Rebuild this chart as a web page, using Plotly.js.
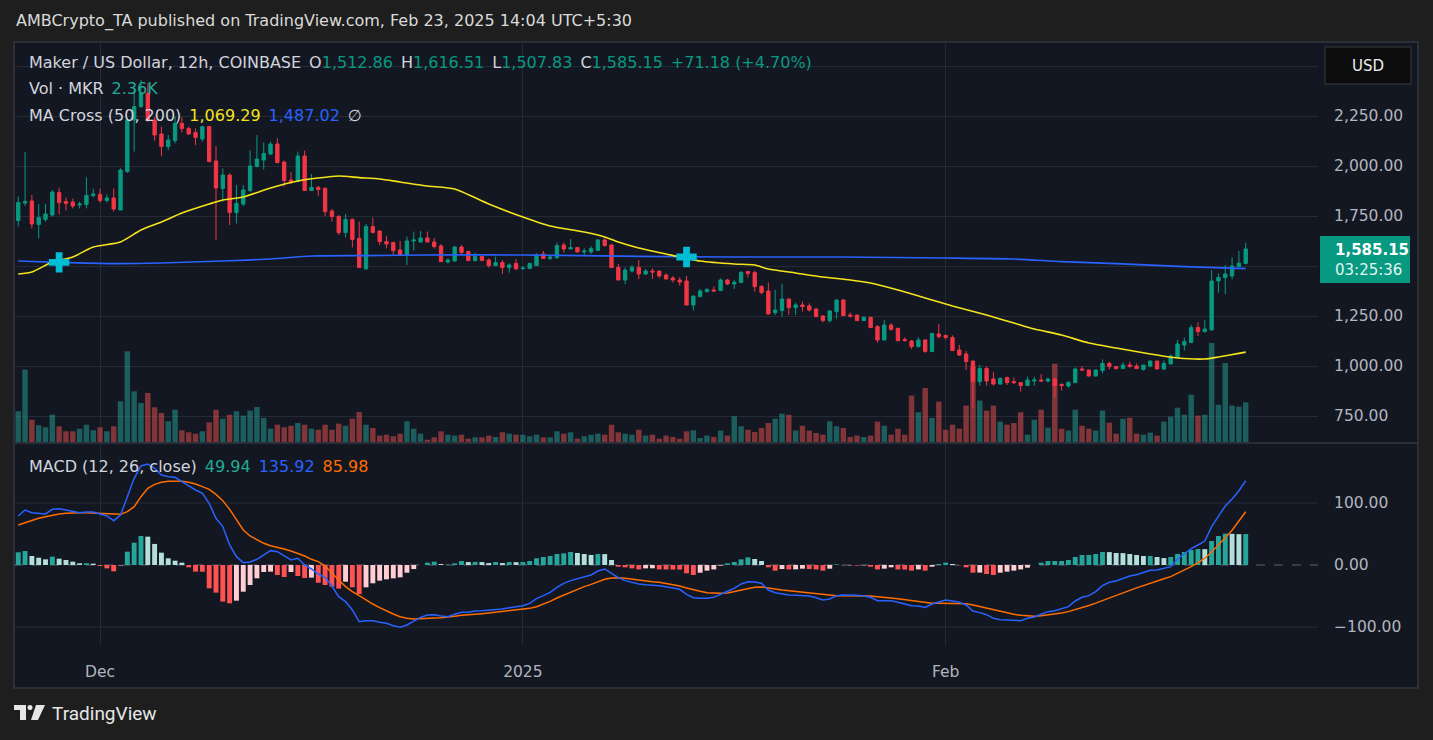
<!DOCTYPE html>
<html><head><meta charset="utf-8">
<script src="https://cdn.plot.ly/plotly-3.0.1.min.js"></script>
<style>html,body{margin:0;padding:0;background:#1e1e1e;overflow:hidden}#chart{width:1433px;height:740px}</style>
</head><body><div id="chart"></div>
<script>
// ---------- DATA ----------
const opens=[1727,1815,1825,1708,1733,1755,1868,1822,1820,1805,
 1808,1852,1858,1827,1840,1780,1972,2230,2297,2363,
 2230,2160,2097,2127,2213,2188,2167,2135,2197,2025,
 1888,1955,1767,1810,1877,1997,2030,2060,2110,2020,
 1930,1922,2050,1877,1893,1888,1775,1747,1667,1733,
 1638,1485,1697,1675,1622,1617,1580,1555,1625,1620,
 1640,1620,1600,1520,1525,1595,1573,1527,1547,1530,
 1502,1517,1492,1513,1487,1487,1502,1560,1538,1542,
 1605,1585,1592,1570,1570,1578,1630,1605,1493,1430,
 1475,1493,1460,1475,1475,1455,1440,1430,1425,1305,
 1347,1372,1380,1377,1430,1410,1417,1472,1467,1397,
 1375,1267,1277,1335,1292,1305,1300,1285,1250,1227,
 1272,1330,1255,1255,1227,1243,1197,1130,1205,1188,
 1133,1125,1097,1130,1072,1160,1152,1143,1080,1060,
 1025,922,988,935,910,942,922,917,902,925,
 930,925,935,908,900,917,985,980,950,977,
 1013,997,987,1005,1000,983,1000,1025,985,1010,
 1043,1105,1117,1192,1172,1180,1425,1442,1450,1497,
 1512.86];
const highs=[1847,2070,1855,1810,1810,1880,1892,1843,1837,1822,
 1943,1887,1887,1858,1887,1988,2240,2388,2430,2413,
 2245,2197,2155,2247,2243,2197,2188,2200,2200,2100,
 1988,1963,1905,1905,2077,2155,2117,2122,2138,2027,
 1970,2072,2077,1960,1900,1893,1785,1755,1760,1738,
 1722,1710,1742,1677,1650,1622,1625,1647,1672,1675,
 1672,1640,1610,1538,1600,1605,1575,1567,1550,1538,
 1547,1530,1513,1535,1500,1517,1563,1575,1555,1617,
 1617,1635,1593,1588,1600,1635,1642,1610,1510,1493,
 1505,1530,1485,1488,1475,1463,1450,1443,1450,1350,
 1385,1388,1397,1438,1435,1430,1475,1475,1477,1405,
 1417,1380,1410,1335,1317,1322,1313,1290,1255,1280,
 1333,1335,1267,1255,1250,1247,1205,1230,1213,1192,
 1143,1130,1143,1133,1163,1210,1158,1153,1105,1075,
 1025,1005,997,970,943,947,942,917,947,947,
 960,942,942,913,925,993,1000,980,980,1033,
 1022,1000,1018,1022,1013,1005,1025,1025,1027,1058,
 1130,1142,1205,1218,1230,1480,1463,1505,1543,1575,
 1616.51];
const lows=[1697,1800,1688,1638,1722,1747,1758,1777,1788,1788,
 1788,1843,1817,1817,1772,1780,1965,2072,2290,2220,
 2127,2050,2080,2113,2168,2155,2105,2122,2020,1630,
 1822,1705,1713,1800,1872,1993,1983,2055,2013,1897,
 1910,1920,1877,1875,1850,1750,1722,1655,1643,1593,
 1492,1485,1663,1605,1588,1555,1552,1505,1577,1617,
 1620,1588,1522,1513,1522,1555,1525,1522,1525,1492,
 1502,1460,1467,1483,1480,1487,1500,1535,1530,1535,
 1567,1585,1568,1552,1560,1575,1597,1492,1430,1410,
 1467,1435,1455,1435,1442,1435,1417,1402,1305,1277,
 1343,1367,1375,1375,1405,1385,1417,1442,1372,1358,
 1260,1255,1247,1255,1255,1272,1272,1243,1218,1217,
 1235,1252,1242,1227,1227,1192,1117,1130,1177,1122,
 1122,1085,1092,1067,1072,1138,1133,1077,1050,980,
 788,902,902,902,905,905,910,872,900,902,
 925,918,842,877,892,917,977,947,947,963,
 983,983,987,993,987,977,993,985,980,1010,
 1043,1077,1117,1150,1167,1180,1367,1360,1433,1497,
 1507.83];
const closes=[1818,1822,1710,1742,1760,1870,1817,1813,1800,1810,
 1853,1860,1827,1840,1785,1980,2230,2297,2363,2230,
 2155,2097,2130,2213,2188,2160,2143,2197,2022,1890,
 1955,1767,1813,1880,2000,2035,2063,2110,2017,1927,
 1920,2050,1877,1893,1883,1772,1747,1667,1733,1633,
 1492,1697,1668,1622,1610,1577,1555,1625,1630,1640,
 1620,1597,1522,1530,1595,1568,1527,1547,1527,1502,
 1517,1492,1505,1485,1490,1512,1555,1538,1545,1602,
 1585,1592,1570,1575,1587,1630,1602,1492,1430,1480,
 1493,1460,1475,1470,1450,1435,1430,1420,1305,1350,
 1375,1383,1375,1430,1410,1418,1468,1463,1397,1368,
 1260,1280,1335,1292,1305,1297,1280,1247,1227,1275,
 1330,1252,1250,1227,1243,1192,1130,1205,1183,1127,
 1127,1097,1130,1072,1163,1147,1143,1077,1055,1022,
 922,988,925,910,938,917,917,902,930,930,
 925,935,902,902,918,985,980,950,980,1013,
 997,987,1005,997,987,1005,1025,985,1013,1050,
 1110,1122,1192,1172,1185,1425,1443,1460,1500,1513.97,
 1585.15];
// volume in thousands of MKR
const volumes=[1.84,4.26,1.35,1.03,0.91,1.64,0.97,0.68,0.68,0.83,
 1.06,0.74,0.91,0.68,0.97,2.42,5.32,3.0,2.32,2.9,
 2.07,1.74,1.26,1.93,0.74,0.62,0.54,0.68,1.2,1.93,
 1.41,1.64,1.84,1.59,1.88,2.09,1.45,0.83,1.06,0.91,
 1.0,1.16,1.06,0.83,0.77,1.06,0.77,1.12,1.0,1.41,
 1.8,1.06,0.87,0.43,0.48,0.39,0.54,1.26,0.83,0.54,
 0.19,0.33,0.68,0.48,0.43,0.48,0.25,0.33,0.33,0.43,
 0.35,0.62,0.54,0.48,0.48,0.39,0.48,0.33,0.33,0.68,
 0.54,0.62,0.25,0.39,0.48,0.54,0.48,1.06,0.62,0.54,
 0.48,0.77,0.43,0.48,0.25,0.43,0.35,0.25,0.68,0.74,
 0.29,0.43,0.35,0.72,0.43,1.55,0.97,0.77,0.64,0.87,
 1.16,1.41,1.7,1.64,0.72,1.0,0.72,0.58,0.48,1.26,
 0.97,0.87,0.35,0.43,0.35,0.43,1.24,1.0,0.48,0.83,
 0.48,2.75,1.78,3.19,1.45,2.4,0.77,1.06,0.83,2.17,
 4.45,2.46,1.88,2.17,1.24,1.06,1.16,1.78,0.48,1.35,
 1.93,0.89,4.6,0.83,0.72,1.93,1.0,0.83,0.72,1.88,
 1.18,0.54,1.41,1.47,0.54,0.48,0.6,0.43,1.24,1.53,
 2.05,1.64,2.8,1.59,1.64,5.8,2.22,4.64,2.17,2.11,
 2.36];
// moving averages read at selected candles (candle index, value)
const ma50Idx=[0,2,5,8,11,15,18,21,24,28,30,33,37,41,44,47,50,53,56,60,64,69,74,78,83,86,88,91,95,100,105,108,110,114,118,122,125,129,133,137,142,146,149,153,157,161,166,170,174,176,179,180];
const ma50Vals=[1460,1470,1520,1545,1595,1620,1680,1720,1765,1810,1830,1845,1890,1925,1940,1950,1942,1935,1920,1900,1885,1810,1745,1700,1670,1645,1620,1590,1560,1525,1510,1505,1485,1465,1445,1430,1415,1380,1340,1300,1255,1215,1185,1155,1115,1090,1060,1040,1035,1045,1063,1069.29];
const ma200Idx=[0,6,14,21,30,37,43,51,60,74,91,105,121,136,146,153,161,171,180];
const ma200Vals=[1525,1518,1512,1515,1525,1535,1550,1552,1555,1555,1548,1545,1545,1540,1535,1522,1512,1497,1487.02];
const crossIdx=[6,98];
const crossVals=[1518,1545];
const macdLine=[79.1,88.7,84.4,83.4,82.3,89.8,90.9,88.7,86.6,84.4,
 85.5,85.5,82.3,79.1,71.5,80.7,110.2,139.8,159.7,162.9,
 156,145.2,142.5,141.4,134.4,127.4,121,115.6,99.5,75.3,
 61.9,32.3,13.5,3.8,4.9,9.2,16.2,23.2,21.5,14.5,
 8.1,10.8,0,-6.4,-14.5,-19.9,-33.8,-51,-59.1,-72.5,
 -91.4,-89.8,-89.8,-92.4,-94,-97.8,-100.5,-96.7,-90.3,-84.4,
 -80.6,-80.1,-82.2,-83.3,-79.5,-76.3,-76.3,-74.2,-73.6,-73.1,
 -72,-70.9,-68.8,-67.7,-65.6,-61.8,-54.3,-49.4,-44.1,-36,
 -29.5,-25.2,-22.5,-19.3,-16.1,-9.7,-6.4,-13.4,-20.4,-25.2,
 -28.5,-30.6,-31.7,-32.2,-33.3,-34.9,-37.1,-39.2,-47.3,-52.7,
 -53.7,-53.7,-52.1,-46.7,-42.4,-37.6,-30.6,-26.9,-27.4,-29.5,
 -40.3,-44.6,-46.7,-48.4,-48.9,-49.4,-50,-52.7,-56.4,-54.8,
 -49.4,-48.4,-48.4,-48.9,-50,-52.1,-57.5,-57.5,-57.5,-60.2,
 -62.9,-65.6,-66.1,-68.3,-62.9,-59.1,-56.4,-58,-60.2,-64.5,
 -74.2,-76.8,-80.1,-86,-88.1,-88.7,-89.2,-89.8,-86,-83.8,
 -79.5,-75.2,-73.6,-70.9,-67.2,-58,-52.1,-49.4,-43,-33.3,
 -27.9,-25.8,-22,-17.7,-15.6,-12.4,-8.6,-8.1,-5.9,-2.7,
 9.7,18.8,26.4,32.3,38.7,61.9,79.1,95.2,106.5,119.9,
 135.92];
const signalLine=[64.5,68.3,72.6,75.3,78,80.7,82.3,83.4,84.4,84.4,
 84.4,83.9,83.4,82.3,81.7,81.7,86,94.1,110.2,123.7,
 130.1,133.4,135,135.5,135,133.4,130.7,126.4,122.1,114,
 103.8,89.8,73.7,56.5,46.8,40.3,35,31.2,29.1,25.8,
 22.6,18.8,14.5,9.2,5.4,-1.6,-13.4,-24.2,-34.9,-43,
 -49.4,-56.4,-62.9,-68.8,-74.2,-79,-83.3,-86,-87.1,-86.5,
 -84.9,-85.4,-84.9,-84.4,-82.8,-81.1,-80.6,-79.5,-78.5,-77.4,
 -76.3,-75.2,-74.2,-73.1,-71.5,-69.9,-67.2,-63.4,-58.6,-53.2,
 -48.4,-44.6,-39.8,-34.9,-31.2,-27.4,-23.1,-20.9,-20.4,-21.5,
 -23.1,-24.2,-25.2,-26.9,-27.9,-29.5,-31.7,-33.8,-37.1,-40.3,
 -42.4,-44.6,-45.7,-45.7,-45.1,-43,-40.8,-38.1,-36,-35.5,
 -36.5,-38.7,-40.3,-41.4,-42.4,-43.5,-44.6,-46.2,-47.8,-48.9,
 -49.4,-49.4,-49.4,-49.4,-49.4,-50,-51,-51.6,-53.2,-54.3,
 -55.9,-57.5,-59.6,-61.3,-61.8,-61.8,-61.8,-61.8,-61.8,-62.3,
 -64.5,-67,-69.8,-72.6,-75.2,-77.5,-79.5,-81.2,-82.3,-82.8,
 -81.7,-80.6,-79.2,-77.4,-75.2,-72.2,-68.8,-65.3,-61.5,-57.6,
 -53.5,-49.3,-45.1,-40.9,-36.8,-32.9,-29.1,-25.6,-22.2,-18.8,
 -13.5,-8.5,-2.5,4,11,21,32,44,56,70.5,
 85.98];
const macdHist=[20.5,22.6,14.5,11.8,9.2,13.5,10.2,8.1,5.4,2.7,
 2.9,2.2,-1.6,-5.4,-10.2,-0.8,21.5,36,46.8,45.7,
 34,19.9,10.8,7,3.8,-3.7,-10.7,-10.8,-37.6,-44.6,
 -59,-61.8,-57.5,-43,-32.2,-21.5,-11.3,-10.7,-16.1,-19.3,
 -11.3,-17.7,-20.9,-20.4,-28.5,-32.2,-34.9,-38.1,-26.9,-36,
 -46.7,-36,-29.5,-25.2,-23.1,-21.5,-19.9,-12.4,-6.5,0,
 3.8,5.4,1.6,0.3,2.7,6.5,4.8,5.0,4.8,3.2,
 4.8,3.2,4.8,4.6,4.8,6.5,10.8,12.9,14.5,17.8,
 18.8,21,19.4,17.8,16.2,17.8,17.6,8.1,-2.7,-3.7,
 -5.4,-7.1,-5.4,-5.3,-7.1,-7.2,-7.3,-7.4,-13.4,-16.1,
 -12.4,-9.1,-7.1,-1,2.7,4.8,9.1,12.4,9.7,6.5,
 -3.7,-9.1,-6.5,-7.1,-7.0,-5.9,-6.5,-7.1,-9.1,-5.9,
 1.1,-0.5,-0.5,-1,-0.5,-2.7,-7.1,-5.9,-3.7,-7.1,
 -7.3,-9.1,-7.1,-9.1,-2.7,1.6,3.8,1.6,-0.5,-3.7,
 -12.4,-12.2,-14.5,-16.1,-12.4,-10.7,-9.1,-7.1,-4.3,0,
 3.8,6.5,6.5,6.5,8.1,12.9,16.2,16.2,17.8,21,
 20.8,19.4,19.2,17.8,16.2,14.5,14.6,12.9,11.2,12.9,
 17.8,21,24.2,25.8,25.6,38.7,46.8,50.6,50.3,49.8,
 49.94];
const tickIdx=[12,74,136];
const tickLabels=['Dec','2025','Feb'];
const priceTicks=[750,1000,1250,1500,1750,2000,2250,2500];
const hiddenPriceLabels=[1500,2500]; // covered by the price tag and the USD box
const macdTicks=[-100,0,100];

// ---------- helpers ----------
const T0=Date.UTC(2024,10,25,5,30), STEP=43200000;
const dt=i=>new Date(T0+i*STEP).toISOString().replace('T',' ').slice(0,23);
const W=1433,H=740,L=14,R=1318,T=42,B=645;
const px=x=>(x-L)/(R-L), py=y=>(B-y)/(B-T);
const FONT='DejaVu Sans, Liberation Sans, Arial, sans-serif';
const GRID='#262a35';
const fmt=v=>v.toLocaleString('en-US',{minimumFractionDigits:2,maximumFractionDigits:2});
const n=closes.length-1;
const xs=closes.map((_,i)=>dt(i));
const UP='#089981', DN='#f23645';

const volColors=closes.map((c,i)=>c>=opens[i]?'rgba(38,166,154,0.5)':'rgba(239,83,80,0.5)');
const histColors=macdHist.map((h,i)=>{const p=i>0?macdHist[i-1]:h;return h>=0?(h>=p?'#26a69a':'#b2dfdb'):(h<p?'#ff5252':'#ffcdd2');});

const traces=[
 {type:'bar',x:xs,y:volumes,xaxis:'x',yaxis:'y',marker:{color:volColors,line:{width:0}},width:STEP*0.8,hoverinfo:'skip'},
 {type:'candlestick',x:xs,open:opens,high:highs,low:lows,close:closes,xaxis:'x',yaxis:'y3',
  increasing:{line:{color:UP,width:1},fillcolor:UP},decreasing:{line:{color:DN,width:1},fillcolor:DN},hoverinfo:'skip'},
 {type:'scatter',mode:'lines',x:ma200Idx.map(dt),y:ma200Vals,xaxis:'x',yaxis:'y3',line:{color:'#2962ff',width:1.6,shape:'spline',smoothing:0.6},hoverinfo:'skip'},
 {type:'scatter',mode:'lines',x:ma50Idx.map(dt),y:ma50Vals,xaxis:'x',yaxis:'y3',line:{color:'#f5e31b',width:1.6,shape:'spline',smoothing:0.6},hoverinfo:'skip'},
 {type:'scatter',mode:'markers',x:crossIdx.map(dt),y:crossVals,xaxis:'x',yaxis:'y3',marker:{symbol:'cross',size:17,color:'#00bcd4',line:{width:0}},hoverinfo:'skip'},
 {type:'bar',x:xs,y:macdHist,xaxis:'x',yaxis:'y2',marker:{color:histColors,line:{width:0}},width:STEP*0.72,hoverinfo:'skip'},
 {type:'scatter',mode:'lines',x:xs,y:signalLine,xaxis:'x',yaxis:'y2',line:{color:'#ff6d00',width:1.5},hoverinfo:'skip'},
 {type:'scatter',mode:'lines',x:xs,y:macdLine,xaxis:'x',yaxis:'y2',line:{color:'#2962ff',width:1.5},hoverinfo:'skip'}
];

const tickFont={family:FONT,size:15.5,color:'#b2b5be'};
const shapes=[
 {type:'rect',xref:'paper',yref:'paper',x0:px(14),x1:px(1418),y0:py(688),y1:py(42),fillcolor:'#131722',line:{color:'#333640',width:1.5},layer:'below'},
 {type:'line',xref:'paper',yref:'y2',x0:0,x1:1,y0:100,y1:100,line:{color:GRID,width:1},layer:'below'},
 {type:'line',xref:'paper',yref:'y2',x0:0,x1:1,y0:-100,y1:-100,line:{color:GRID,width:1},layer:'below'},
 {type:'line',xref:'paper',yref:'y2',x0:0,x1:1,y0:0,y1:0,line:{color:'#5d606b',width:1,dash:'dash'},layer:'below'},
 {type:'line',xref:'paper',yref:'paper',x0:px(14),x1:px(1418),y0:py(443),y1:py(443),line:{color:'#2a2e39',width:2},layer:'above'},
 {type:'rect',xref:'paper',yref:'paper',x0:px(1325),x1:px(1411),y0:py(84),y1:py(47),fillcolor:'#0c0c0c',line:{color:'#3c3c3c',width:1},layer:'above'},
 {type:'rect',xref:'paper',yref:'paper',x0:px(1320),x1:px(1410),y0:py(283),y1:py(236),fillcolor:UP,line:{width:0},layer:'above'},
 // TradingView logo
 {type:'path',xref:'paper',yref:'paper',path:`M${px(14)},${py(705)} L${px(26)},${py(705)} L${px(26)},${py(720)} L${px(20)},${py(720)} L${px(20)},${py(710)} L${px(14)},${py(710)} Z`,fillcolor:'#e6e6e6',line:{width:0}},
 {type:'circle',xref:'paper',yref:'paper',x0:px(27.5),x1:px(32.5),y0:py(710),y1:py(705),fillcolor:'#e6e6e6',line:{width:0}},
 {type:'path',xref:'paper',yref:'paper',path:`M${px(36)},${py(705)} L${px(45)},${py(705)} L${px(38)},${py(720)} L${px(31)},${py(720)} Z`,fillcolor:'#e6e6e6',line:{width:0}}
];

const ann=(x,y,text,o)=>Object.assign({xref:'paper',yref:'paper',x:px(x),y:py(y),text,showarrow:false,xanchor:'left',yanchor:'middle',font:{family:FONT,size:16,color:'#d1d4dc'}},o||{});
const g=s=>`<span style="color:${UP}">${s}</span>`;
const chg=closes[n]-closes[n-1], pct=chg/closes[n-1]*100;
const sp='\u2002';
const annotations=[
 ann(14,21,'AMBCrypto_TA published on TradingView.com, Feb 23, 2025 14:04 UTC+5:30',{font:{family:FONT,size:16,color:'#dadada'}}),
 ann(27,63,`Maker / US Dollar, 12h, COINBASE${sp}O${g(fmt(opens[n]))}${sp}H${g(fmt(highs[n]))}${sp}L${g(fmt(lows[n]))}${sp}C${g(fmt(closes[n]))}${sp}${g('+'+fmt(chg)+' (+'+pct.toFixed(2)+'%)')}`),
 ann(27,89,`Vol · MKR${sp}<span style="color:#22ab94">${volumes[n].toFixed(2)}K</span>`),
 ann(27,115,`MA Cross (50, 200)${sp}<span style="color:#f5e31b">${fmt(ma50Vals[ma50Vals.length-1])}</span>${sp}<span style="color:#2962ff">${fmt(ma200Vals[ma200Vals.length-1])}</span>${sp}∅`),
 ann(27,466,`MACD (12, 26, close)${sp}<span style="color:#22ab94">${fmt(macdHist[n])}</span>${sp}<span style="color:#2962ff">${fmt(macdLine[n])}</span>${sp}<span style="color:#ff6d00">${fmt(signalLine[n])}</span>`),
 ann(1368,66,'USD',{xanchor:'center',font:{family:FONT,size:15,color:'#eeeeee'}}),
 ann(1333,259.5,`<b>${fmt(closes[n])}</b><br><span style="color:#e3f4f1">03:25:36</span>`,{align:'left',font:{family:FONT,size:15,color:'#ffffff'}}),
 ann(50,713,'TradingView',{font:{family:'Roboto, Liberation Sans, sans-serif',size:19,color:'#e6e6e6'}})
];

const layout={
 width:W,height:H,margin:{l:L,r:W-R,t:T,b:H-B,pad:0},
 paper_bgcolor:'#1e1e1e',plot_bgcolor:'rgba(0,0,0,0)',
 showlegend:false,hovermode:false,dragmode:false,boxgap:0.3,bargap:0.2,
 xaxis:{type:'date',anchor:'y2',range:[dt(-0.62),dt(190.6)],tickvals:tickIdx.map(dt),ticktext:tickLabels,
  showgrid:true,gridcolor:GRID,gridwidth:1,zeroline:false,showline:false,ticks:'outside',ticklen:12,tickcolor:'rgba(0,0,0,0)',
  tickfont:tickFont,rangeslider:{visible:false},fixedrange:true},
 yaxis:{domain:[0.335,1],anchor:'x',range:[0,23.26],visible:false,showgrid:false,fixedrange:true},
 yaxis3:{overlaying:'y',anchor:'x',side:'right',range:[615,2620],tickvals:priceTicks,ticktext:priceTicks.map(v=>hiddenPriceLabels.includes(v)?'':fmt(v)),
  showgrid:true,gridcolor:GRID,gridwidth:1,zeroline:false,showline:false,ticks:'outside',ticklen:12,tickcolor:'rgba(0,0,0,0)',tickfont:tickFont,fixedrange:true},
 yaxis2:{domain:[0,0.335],anchor:'x',side:'right',range:[-129,196.8],tickvals:macdTicks,ticktext:macdTicks.map(v=>(v<0?'\u2212':'')+fmt(Math.abs(v))),
  showgrid:false,zeroline:false,showline:false,ticks:'outside',ticklen:12,tickcolor:'rgba(0,0,0,0)',tickfont:tickFont,fixedrange:true},
 shapes,annotations
};
Plotly.newPlot('chart',traces,layout,{displayModeBar:false,staticPlot:true});
</script></body></html>
